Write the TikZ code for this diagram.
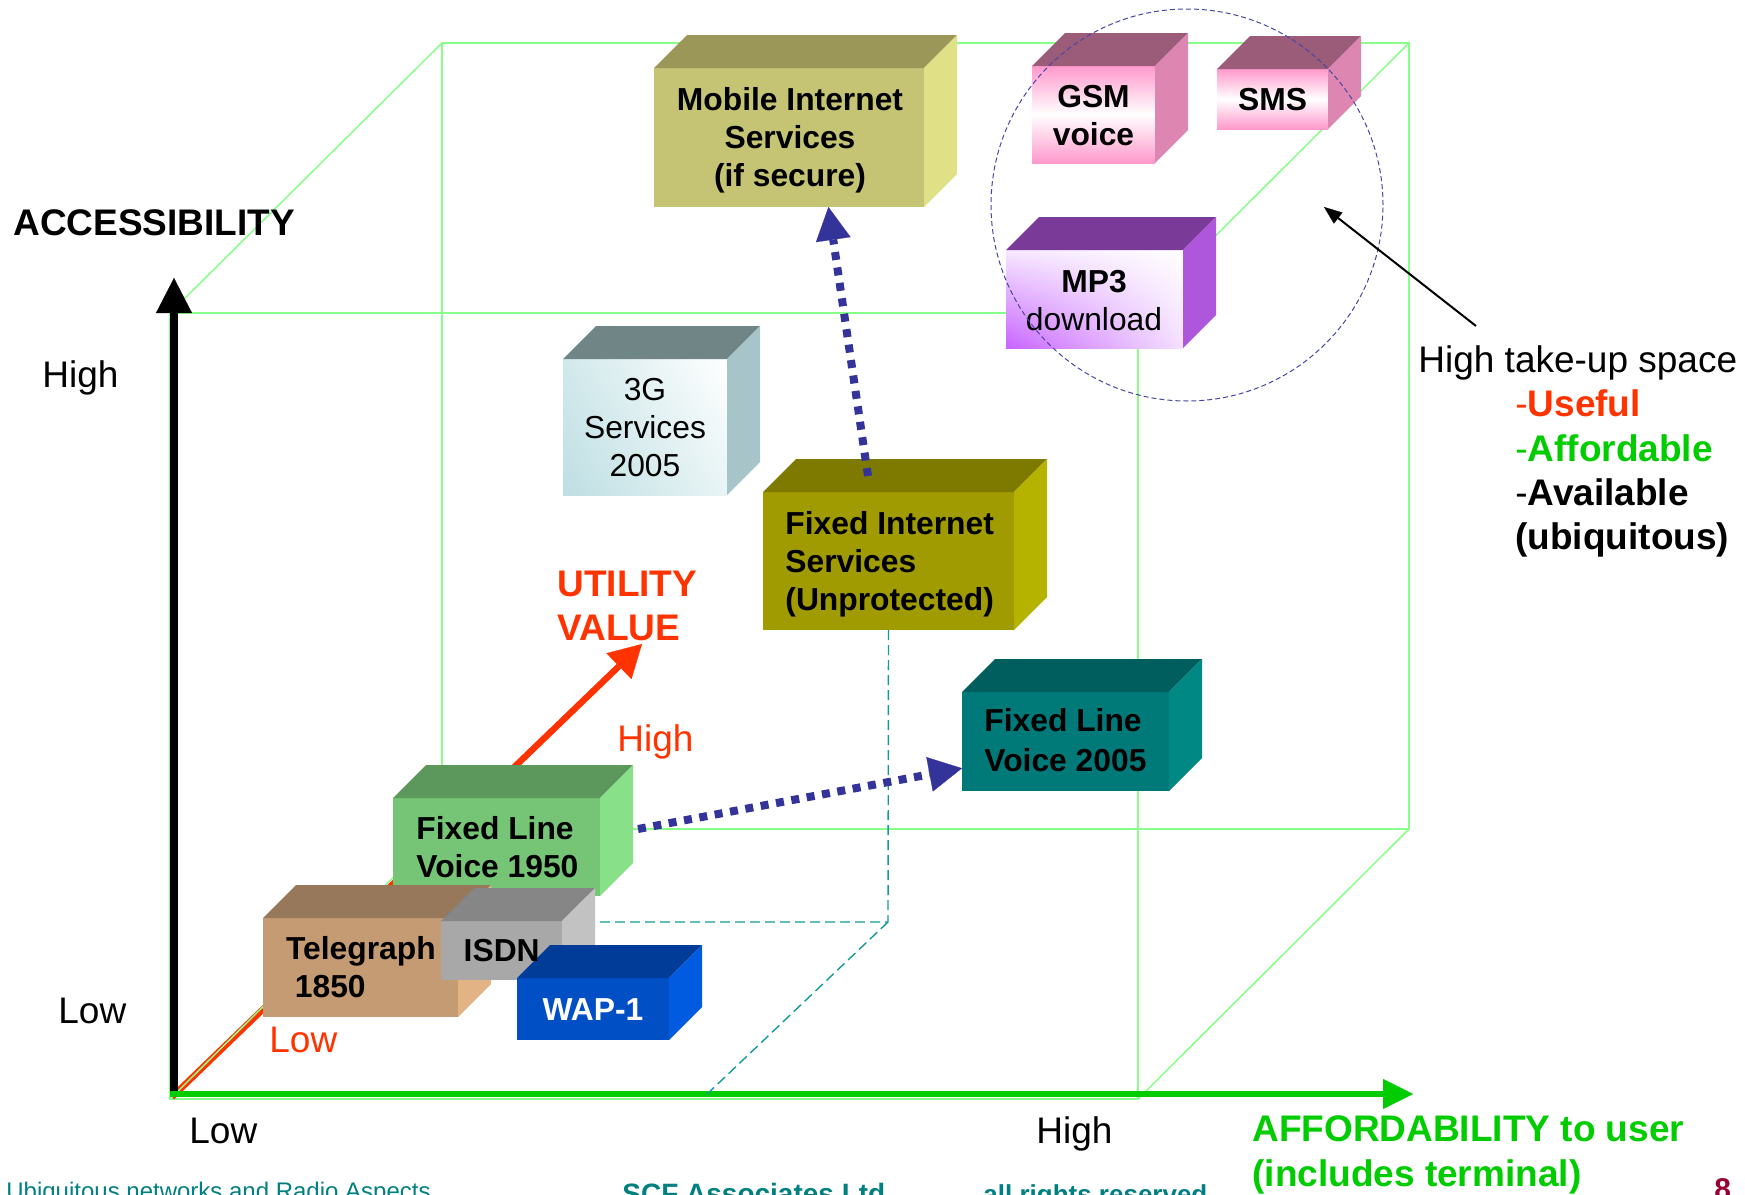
\documentclass[tikz,border=0pt]{standalone}
\usepackage{fontspec}
\setmainfont{Liberation Sans}
\usetikzlibrary{arrows.meta,calc,shadings}

% palette
\definecolor{cubegreen}{HTML}{88FF88}
\definecolor{axisgreen}{HTML}{00CC00}
\definecolor{utilred}{HTML}{FF3300}
\definecolor{dotblue}{HTML}{333399}
\definecolor{projteal}{HTML}{129A9A}
\definecolor{footteal}{HTML}{008080}
\definecolor{pagered}{HTML}{990033}
% box faces: front / top / right
\definecolor{mobF}{HTML}{C5C374}\definecolor{mobT}{HTML}{9A9758}\definecolor{mobR}{HTML}{E0E086}
\definecolor{pinkF}{HTML}{FF99CC}\definecolor{pinkT}{HTML}{9A5C78}\definecolor{pinkR}{HTML}{DE86B2}
\definecolor{mpF}{HTML}{C864FF}\definecolor{mpT}{HTML}{7A3B98}\definecolor{mpR}{HTML}{AE57DC}
\definecolor{tgF}{HTML}{BEDFE3}\definecolor{tgT}{HTML}{6F8586}\definecolor{tgR}{HTML}{A7C5C8}
\definecolor{fiF}{HTML}{A09B00}\definecolor{fiT}{HTML}{7E7A00}\definecolor{fiR}{HTML}{B5B200}
\definecolor{flnF}{HTML}{007979}\definecolor{flnT}{HTML}{005F5E}\definecolor{flnR}{HTML}{008885}
\definecolor{floF}{HTML}{76C576}\definecolor{floT}{HTML}{5C985C}\definecolor{floR}{HTML}{88E088}
\definecolor{telF}{HTML}{C49B73}\definecolor{telT}{HTML}{98785A}\definecolor{telR}{HTML}{E1B385}
\definecolor{isF}{HTML}{A8A8A8}\definecolor{isT}{HTML}{868686}\definecolor{isR}{HTML}{C2C2C2}
\definecolor{wapF}{HTML}{004FC4}\definecolor{wapT}{HTML}{003C98}\definecolor{wapR}{HTML}{005BE0}

% stacked lines whose baseline is the first line
\newcommand\stk[2]{\begin{tabular}[t]{@{}#1@{}}#2\end{tabular}}

% 3-D box: name, x1, y1, x2, y2 (front face), front style, top colour, side colour
\newcommand\cubebox[8]{%
  \node[frontface, #6, minimum width={(#4-#2)*0.5pt}, minimum height={(#5-#3)*0.5pt}] (#1) at (#2,#3) {};
  \fill[#7] (#1.north west) -- ++(33,-33) -- ++({#4-#2},0) -- (#1.north east) -- cycle;
  \fill[#8] (#1.north east) -- ++(33,-33) -- ++(0,{#5-#3}) -- (#1.south east) -- cycle;
}

\begin{document}
\begin{tikzpicture}[x=0.5pt, y=-0.5pt,
  cube/.style={draw=cubegreen, line width=0.75pt},
  frontface/.style={rectangle, draw=none, inner sep=0pt, outer sep=0pt, anchor=north west},
  boxtext/.style={inner sep=0pt, anchor=base, font=\fontsize{15.9}{19}\selectfont\bfseries},
  plaintext/.style={inner sep=0pt, anchor=base, font=\fontsize{15.9}{19}\selectfont},
  axislabel/.style={inner sep=0pt, anchor=base west, font=\fontsize{18.5}{22.2}\selectfont},
  dotarrow/.style={draw=dotblue, line width=4pt, dash pattern=on 4pt off 3.8pt,
    -{Triangle[length=16.5pt,width=17.5pt,line width=0.1pt]}},
  projline/.style={draw=projteal, line width=0.7pt, dash pattern=on 5pt off 2.5pt},
  footer/.style={inner sep=0pt, anchor=base west, text=footteal},
]
\useasboundingbox (0,0) rectangle (1745,1194);

% ---- the value cube ----
\coordinate (F-tl) at (170,313);  \coordinate (F-tr) at (1138,313);
\coordinate (F-br) at (1138,1099); \coordinate (F-bl) at (170,1099);
\coordinate (B-tl) at (442,43);   \coordinate (B-tr) at (1409,43);
\coordinate (B-br) at (1409,829); \coordinate (B-bl) at (442,829);
\draw[cube] (B-bl) -- (B-tl) -- (B-tr) -- (B-br) -- cycle;
\draw[cube] (F-tl) -- (F-tr) -- (F-br) -- (F-bl) -- cycle;
\draw[cube] (F-tl) -- (B-tl) (F-tr) -- (B-tr) (F-br) -- (B-br);

% utility axis
\coordinate (U-start) at (172,1097);
\coordinate (U-end) at (642,644);
\draw[utilred, line width=3.2pt, -{Triangle[length=16pt,width=18pt,line width=0.1pt]}] (U-start) -- (U-end);
\draw[cube] (F-bl) -- (B-bl);

% accessibility and affordability axes
\coordinate (Y-start) at (174,1097);
\coordinate (Y-end) at (174,278);
\draw[black, line width=3.6pt, -{Triangle[length=17.5pt,width=18pt,line width=0.1pt]}] (Y-start) -- (Y-end);
\coordinate (X-start) at (170,1094);
\coordinate (X-end) at (1413,1094);
\draw[axisgreen, line width=3pt, -{Triangle[length=15pt,width=15pt,line width=0.1pt]}] (X-start) -- (X-end);

% projection of fixed internet services onto the floor
\coordinate (proj) at (888,922);
\coordinate (proj-floor) at (704,1097);
\coordinate (proj-left) at (560,922);

% ---- service boxes ----
\cubebox{g3}{563}{359}{727}{495}{lower left=tgF, upper left=tgF!70!white, upper right=white, lower right=tgF!35!white}{tgT}{tgR}
\cubebox{mobile}{654}{68}{924}{207}{fill=mobF}{mobT}{mobR}
\cubebox{gsm}{1032}{66}{1155}{163}{top color=pinkF, bottom color=pinkF, middle color=white}{pinkT}{pinkR}
\cubebox{sms}{1217}{69}{1328}{129}{top color=pinkF, bottom color=pinkF, middle color=white}{pinkT}{pinkR}
\cubebox{mp3}{1006}{250}{1183}{348}{lower left=mpF, upper left=mpF!15!white, upper right=white, lower right=mpF!20!white}{mpT}{mpR}
\cubebox{fixint}{763}{492}{1014}{630}{fill=fiF}{fiT}{fiR}
\draw[projline] (fixint.south) -- (proj) -- (proj-left);
\draw[projline] (proj) -- (proj-floor);
\cubebox{fl2005}{962}{692}{1169}{791}{fill=flnF}{flnT}{flnR}
\cubebox{fl1950}{393}{798}{600}{896}{fill=floF}{floT}{floR}
\cubebox{telegraph}{263}{918}{458}{1017}{fill=telF}{telT}{telR}
\cubebox{isdn}{441}{921}{562}{980}{fill=isF}{isT}{isR}
\cubebox{wap}{517}{978}{669}{1040}{fill=wapF}{wapT}{wapR}

% box captions
\node[boxtext] (mobile-t) at (790,110.7) {\stk{c}{Mobile Internet\\Services\\(if secure)}};
\node[boxtext] (gsm-t) at (1093.5,107.3) {\stk{c}{GSM\\voice}};
\node[boxtext] (sms-t) at (1272.5,110) {SMS};
\node[boxtext] (mp3-t) at (1094,292.7) {\stk{c}{MP3\\\mdseries download}};
\node[plaintext] (g3-t) at (645,400.7) {\stk{c}{3G\\Services\\2005}};
\node[boxtext, anchor=base west] (fixint-t) at (785,534) {\stk{l}{Fixed Internet\\Services\\(Unprotected)}};
\node[boxtext, anchor=base west, font=\fontsize{15.9}{20}\selectfont\bfseries] (fl2005-t) at (984,731.7) {\stk{l}{Fixed Line\\Voice 2005}};
\node[boxtext, anchor=base west] (fl1950-t) at (416,839.3) {\stk{l}{Fixed Line\\Voice 1950}};
\node[boxtext, anchor=base west] (telegraph-t) at (285.7,959.3) {\stk{l}{Telegraph\\\hspace*{4.4pt}1850}};
\node[boxtext, anchor=base west] (isdn-t) at (463.3,961) {ISDN};
\node[boxtext, text=white] (wap-t) at (593,1020.7) {WAP-1};

% ---- migration paths ----
\coordinate (fixint-top) at (868,476);
\draw[dotarrow] (fixint-top) -- ($(mobile.south west)!0.646!(mobile.south east)$);
\coordinate (fl1950-side) at (638,829);
\draw[dotarrow] (fl1950-side) -- ($(fl2005.south west)!0.23!(fl2005.north west)$);

% high take-up space
\node[circle, draw=dotblue!90!white, line width=0.5pt, dash pattern=on 2.5pt off 1.5pt,
      minimum size=196pt, inner sep=0pt] (takeup) at (1187,205) {};
\coordinate (takeup-note) at (1476,326);
\coordinate (takeup-in) at (1324,207);
\draw[black, line width=1pt, -{Triangle[length=9pt,width=7pt,line width=0.1pt]}] (takeup-note) -- (takeup-in);

% ---- axis labels ----
\node[axislabel, font=\fontsize{18.5}{22.2}\selectfont\bfseries] (acc) at (13,235) {ACCESSIBILITY};
\node[axislabel] (acc-high) at (42,387) {High};
\node[axislabel] (acc-low) at (58,1023) {Low};
\node[axislabel] (aff-low) at (189,1143) {Low};
\node[axislabel] (aff-high) at (1036,1143) {High};
\node[axislabel, text=axisgreen, font=\fontsize{18.5}{22.5}\selectfont\bfseries] (aff) at (1252,1141)
  {\stk{l}{AFFORDABILITY to user\\(includes terminal)}};
\node[axislabel, text=utilred, font=\fontsize{18.5}{22}\selectfont\bfseries] (util) at (557,596)
  {\stk{l}{UTILITY\\VALUE}};
\node[axislabel, text=utilred] (util-high) at (617,751) {High};
\node[axislabel, text=utilred] (util-low) at (269,1052) {Low};

\node[axislabel] (takeup-t) at (1418,372.7) {High take-up space};
\node[axislabel, font=\fontsize{18.5}{22.15}\selectfont] (takeup-list) at (1515,416.7)
  {\stk{l}{\color{utilred}-\textbf{Useful}\\\color{axisgreen}-\textbf{Affordable}\\-\textbf{Available}\\\textbf{(ubiquitous)}}};

% ---- footer ----
\node[footer, font=\fontsize{12}{14}\selectfont] (foot-title) at (6,1199) {Ubiquitous networks and Radio Aspects};
\node[footer, font=\fontsize{14}{16}\selectfont\bfseries] (foot-firm) at (622,1203) {SCF Associates Ltd};
\node[footer, font=\fontsize{13}{16}\selectfont\bfseries] (foot-rights) at (983,1203) {all rights reserved};
\node[footer, text=pagered, font=\fontsize{15}{16}\selectfont\bfseries] (foot-page) at (1714,1199) {8};
\end{tikzpicture}
\end{document}
